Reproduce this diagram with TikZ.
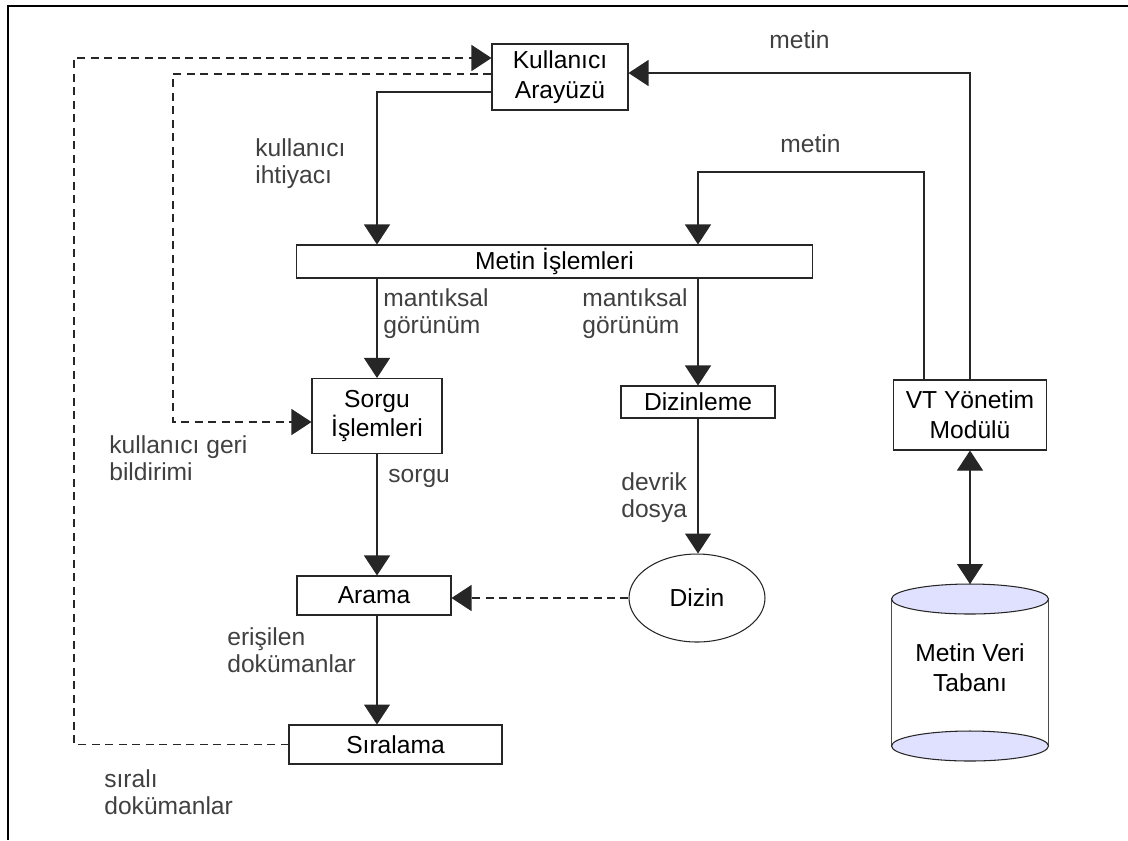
\documentclass[tikz,border=0pt]{standalone}
\usepackage{fontspec}
\setmainfont{Liberation Sans}
\usetikzlibrary{arrows.meta,shapes.geometric,calc}

\definecolor{dbfill}{RGB}{224,224,255}
\definecolor{lblgray}{RGB}{64,64,64}

\begin{document}
\begin{tikzpicture}[
    x=0.02cm, y=-0.02cm,
    font=\fontsize{14}{17}\selectfont,
    box/.style={draw=black!85, line width=0.6pt, fill=white, inner sep=0pt, align=center},
    lbl/.style={text=lblgray, align=left, inner sep=0pt, anchor=base west,
                font=\fontsize{14}{15.2}\selectfont},
    arr/.style={-{Triangle[width=5.2mm,length=4mm]}, line width=0.6pt, draw=black!85},
    dasharr/.style={arr, dash pattern=on 1.6mm off 1.1mm},
    dblarr/.style={{Triangle[width=5.2mm,length=4mm]}-{Triangle[width=5.2mm,length=4mm]}, line width=0.6pt, draw=black!85}
]
    \useasboundingbox (0,0) rectangle (1128,840);
    \draw[line width=1.1pt] (1128,6) -- (8,6) -- (8,840);

    % blocks
    \node[box, minimum width=2.72cm, minimum height=1.32cm] (ka) at (560,77) {Kullanıcı\\Arayüzü};
    \node[box, minimum width=10.34cm, minimum height=0.66cm] (mi) at (554.5,261.5) {Metin İşlemleri};
    \node[box, minimum width=2.6cm, minimum height=1.5cm] (si) at (377,416) {Sorgu\\İşlemleri};
    \node[box, minimum width=3.08cm, minimum height=0.64cm] (dzl) at (698,402) {Dizinleme};
    \node[box, minimum width=3.06cm, minimum height=1.4cm] (vt) at (970,415) {VT Yönetim\\Modülü};
    \node[box, minimum width=3.08cm, minimum height=0.78cm] (ar) at (374,595.5) {Arama};
    \node[box, minimum width=4.26cm, minimum height=0.78cm] (sr) at (395.5,744.5) {Sıralama};
    \node[ellipse, draw=black!85, line width=0.6pt, minimum width=2.72cm, minimum height=1.76cm, inner sep=0pt] (dizin) at (697,598) {Dizin};

    % veri tabani
    \draw[line width=0.6pt, draw=black!70, fill=white] (891.5,599) rectangle (1048.5,746);
    \draw[line width=0.6pt, draw=black!85, fill=dbfill] (970,746) ellipse [x radius=1.57cm, y radius=0.3cm];
    \draw[line width=0.6pt, draw=black!85, fill=dbfill] (970,599) ellipse [x radius=1.57cm, y radius=0.3cm];
    \node[align=center, inner sep=0pt] (db) at (970,668) {Metin Veri\\Tabanı};
    \coordinate (dbtop) at (970,584);

    \coordinate (col) at (377,92);
    \coordinate (mt) at (924,172);
    \coordinate (fb1) at (74,58);
    \coordinate (fb2) at (173,74);

    % baglantilar
    \draw[arr] (ka.west |- col) -- (col) -- (col |- mi.north);
    \draw[arr] (vt.north) |- ([yshift=0.08cm]ka.east);
    \draw[arr] (vt.north -| mt) -- (mt) -| (mi.north -| dzl);
    \draw[arr] (mi.south -| col) -- (si.north -| col);
    \draw[arr] (mi.south -| dzl) -- (dzl.north);
    \draw[arr] (dzl.south) -- (dzl.south |- dizin.north);
    \draw[arr] (si.south -| col) -- (ar.north -| col);
    \draw[arr] (ar.south -| col) -- (sr.north -| col);
    \draw[dasharr] (dizin.west) -- (dizin.west -| ar.east);
    \draw[dblarr] (vt.south) -- (vt.south |- dbtop);
    \draw[dasharr] (sr.west) -| (fb1) -- (fb1 -| ka.west);
    \draw[dasharr] (ka.west |- fb2) -- (fb2) |- ([yshift=-0.12cm]si.west);

    % etiketler
    \node[lbl] (l1) at (769,48) {metin};
    \node[lbl] (l2) at (780,152) {metin};
    \node[lbl] (l3) at (255,183) {kullanıcı\\ihtiyacı};
    \node[lbl] (l4) at (383,333) {mantıksal\\görünüm};
    \node[lbl] (l5) at (582,333) {mantıksal\\görünüm};
    \node[lbl] (l6) at (109,480) {kullanıcı geri\\bildirimi};
    \node[lbl] (l7) at (388,482) {sorgu};
    \node[lbl] (l8) at (621,517) {devrik\\dosya};
    \node[lbl] (l9) at (227,672) {erişilen\\dokümanlar};
    \node[lbl] (l10) at (104,814) {sıralı\\dokümanlar};
\end{tikzpicture}
\end{document}
